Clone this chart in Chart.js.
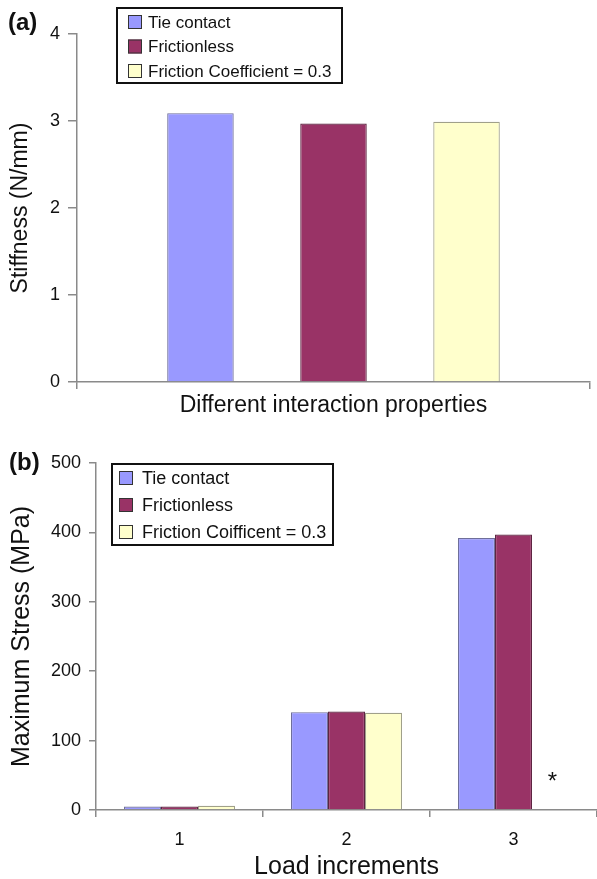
<!DOCTYPE html>
<html>
<head>
<meta charset="utf-8">
<script src="https://cdn.jsdelivr.net/npm/chart.js@4/dist/chart.umd.min.js"></script>
<style>
  html, body { margin: 0; padding: 0; background: #fff; }
  #page { position: relative; width: 597px; height: 879px; overflow: hidden; background: #fff; }
  .panel { position: absolute; left: 0; width: 597px; }
  #wrapA { top: 0; height: 430px; }
  #wrapB { top: 430px; height: 449px; }
  .tag { position: absolute; font: bold 24px "Liberation Sans", Arial, sans-serif; color: #111; line-height: 28px; }
</style>
</head>
<body>
<div id="page">
  <div class="panel" id="wrapA"><canvas id="chartA"></canvas></div>
  <div class="panel" id="wrapB"><canvas id="chartB"></canvas></div>
  <div class="tag" style="left:8px;top:8px">(a)</div>
  <div class="tag" style="left:9px;top:448px">(b)</div>
</div>
<script>
const FONT = '"Liberation Sans", Arial, sans-serif';

// (a) stiffness for each contact definition
const stiffnessSeries = ['Tie contact', 'Frictionless', 'Friction Coefficient = 0.3'];
const stiffnessCategory = [''];
const stiffnessValues = [3.09, 2.97, 2.99];
const stiffnessTicks = [0, 1, 2, 3, 4];

// (b) maximum stress per load increment
const stressSeries = ['Tie contact', 'Frictionless', 'Friction Coifficent = 0.3'];
const loadIncrements = ['1', '2', '3'];
const stressTie = [5, 141, 392];
const stressFrictionless = [5, 142, 397];
const stressFriction03 = [6, 140, null];
const stressTicks = [0, 100, 200, 300, 400, 500];
// marker written where a result is missing, and the stress level it sits at
const missingMarkText = '*';
const missingMarkLevel = 40;

const FILLS = ['#9999FF', '#993366', '#FFFFCC'];
const EDGES = ['#6f6f9a', '#5e2442', '#a0a08a'];
const AXIS = '#8a8a8a';
const INK = '#111';

// Framed legend drawn inside the plot
const boxLegend = {
  id: 'boxLegend',
  afterDraw(chart, args, o) {
    const ctx = chart.ctx;
    ctx.save();
    ctx.fillStyle = '#fff';
    ctx.fillRect(o.x, o.y, o.w, o.h);
    ctx.lineWidth = 2;
    ctx.strokeStyle = '#111';
    ctx.strokeRect(o.x, o.y, o.w, o.h);
    ctx.font = o.size + 'px ' + FONT;
    ctx.textBaseline = 'middle';
    ctx.textAlign = 'left';
    chart.data.datasets.forEach((ds, i) => {
      const cy = o.y + o.first + i * o.row;
      ctx.fillStyle = ds.backgroundColor;
      ctx.fillRect(o.sx, cy - o.sw / 2, o.sw, o.sw);
      ctx.lineWidth = 1;
      ctx.strokeStyle = '#333';
      ctx.strokeRect(o.sx + 0.5, cy - o.sw / 2 + 0.5, o.sw - 1, o.sw - 1);
      ctx.fillStyle = INK;
      ctx.fillText(ds.label, o.tx, cy + 1);
    });
    ctx.restore();
  }
};

// Writes a marker in the slot of any bar that has no value
const missingMark = {
  id: 'missingMark',
  afterDatasetsDraw(chart, args, o) {
    if (!o || !o.text) return;
    const ctx = chart.ctx;
    const yScale = chart.scales.y;
    ctx.save();
    ctx.font = o.size + 'px ' + FONT;
    ctx.fillStyle = INK;
    ctx.textAlign = 'center';
    ctx.textBaseline = 'middle';
    chart.data.datasets.forEach((ds, di) => {
      const meta = chart.getDatasetMeta(di);
      ds.data.forEach((v, i) => {
        if (v === null) {
          const el = meta.data[i];
          ctx.fillText(o.text, el.x + 2, yScale.getPixelForValue(o.level));
        }
      });
    });
    ctx.restore();
  }
};

function yAxis(ticks, title, titleSize, width, tickLen, pad) {
  return {
    min: ticks[0],
    max: ticks[ticks.length - 1],
    ticks: { stepSize: ticks[1] - ticks[0], font: { family: FONT, size: 18 }, color: INK, padding: pad },
    grid: { drawOnChartArea: false, tickLength: tickLen, color: AXIS, lineWidth: 1.5 },
    border: { color: AXIS, width: 1.5 },
    title: { display: true, text: title, color: INK, font: { family: FONT, size: titleSize }, padding: { top: 7, bottom: 0 } },
    afterFit(s) { s.width = width; }
  };
}

// ---- (a) ----
new Chart(document.getElementById('chartA'), {
  type: 'bar',
  data: {
    labels: stiffnessCategory,
    datasets: stiffnessSeries.map((name, i) => ({
      label: name,
      data: [stiffnessValues[i]],
      backgroundColor: FILLS[i],
      borderColor: EDGES[i],
      borderWidth: 1.2,
      categoryPercentage: 0.778,
      barPercentage: 0.5
    }))
  },
  options: {
    responsive: true,
    maintainAspectRatio: false,
    animation: false,
    layout: { padding: { left: 0, right: 7, top: 34, bottom: 0 } },
    plugins: {
      legend: { display: false },
      tooltip: { enabled: false },
      boxLegend: { x: 117, y: 8, w: 225, h: 75, first: 14, row: 24.5, sx: 128, sw: 14, tx: 148, size: 17 }
    },
    scales: {
      x: {
        ticks: { display: false },
        grid: { drawOnChartArea: false, tickLength: 7, color: AXIS, lineWidth: 1.5, offset: true },
        border: { color: AXIS, width: 1.5 },
        title: { display: true, text: 'Different interaction properties', color: INK, font: { family: FONT, size: 23 }, padding: { top: 0, bottom: 11 } },
        afterFit(s) { s.height = 48; }
      },
      y: yAxis(stiffnessTicks, 'Stiffness (N/mm)', 23, 77, 9, 8)
    }
  },
  plugins: [boxLegend]
});

// ---- (b) ----
const stressValues = [stressTie, stressFrictionless, stressFriction03];
new Chart(document.getElementById('chartB'), {
  type: 'bar',
  data: {
    labels: loadIncrements,
    datasets: stressSeries.map((name, i) => ({
      label: name,
      data: stressValues[i],
      backgroundColor: FILLS[i],
      borderColor: EDGES[i],
      borderWidth: 1.2,
      categoryPercentage: 0.665,
      barPercentage: 1.0
    }))
  },
  options: {
    responsive: true,
    maintainAspectRatio: false,
    animation: false,
    layout: { padding: { left: 0, right: 0, top: 33, bottom: 0 } },
    plugins: {
      legend: { display: false },
      tooltip: { enabled: false },
      boxLegend: { x: 112, y: 34, w: 221, h: 81, first: 14, row: 27, sx: 119, sw: 14, tx: 142, size: 18 },
      missingMark: { text: missingMarkText, level: missingMarkLevel, size: 24 }
    },
    scales: {
      x: {
        ticks: { font: { family: FONT, size: 18 }, color: INK, padding: 12 },
        grid: { drawOnChartArea: false, tickLength: 7, color: AXIS, lineWidth: 1.5, offset: true },
        border: { color: AXIS, width: 1.5 },
        title: { display: true, text: 'Load increments', color: INK, font: { family: FONT, size: 25 }, padding: { top: 0, bottom: -3 } },
        afterFit(s) { s.height = 69; }
      },
      y: yAxis(stressTicks, 'Maximum Stress (MPa)', 25, 96, 7, 8)
    }
  },
  plugins: [boxLegend, missingMark]
});
</script>
</body>
</html>
